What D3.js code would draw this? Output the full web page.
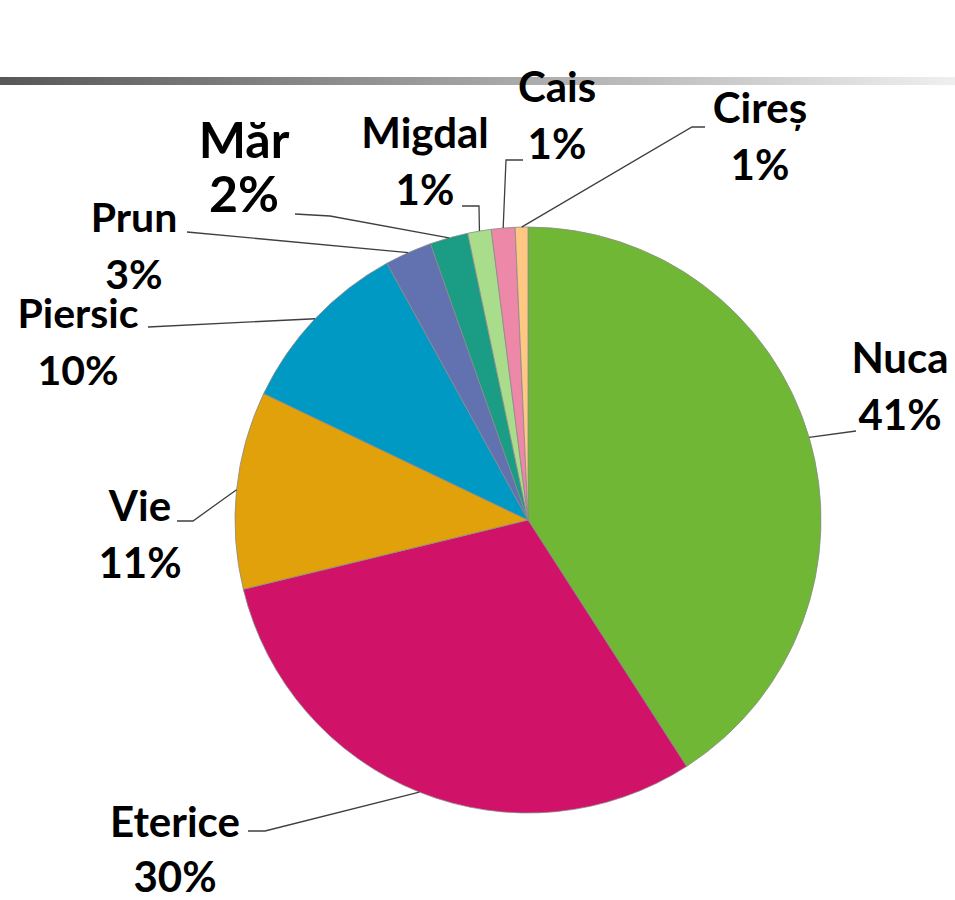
<!DOCTYPE html>
<html>
<head>
<meta charset="utf-8">
<script src="https://cdn.jsdelivr.net/npm/d3@7"></script>
<style>
  body { margin: 0; background: #fff; }
  svg { display: block; font-family: Lato, "Open Sans", sans-serif; font-weight: bold; }
</style>
</head>
<body>
<svg id="chart"></svg>
<script>
// data (clockwise from 12 o'clock)
const categories = ["Nuca", "Eterice", "Vie", "Piersic", "Prun", "Măr", "Migdal", "Cais", "Cireș"];
const shares = [40.9, 30.3, 10.9, 9.9, 2.6, 2.1, 1.3, 1.3, 0.7];
const percentLabels = ["41%", "30%", "11%", "10%", "3%", "2%", "1%", "1%", "1%"];
const colors = ["#70b735", "#d01268", "#e1a10a", "#0099c4", "#6272b0", "#1b9c84", "#a9dd8c", "#ee88a9", "#fec883"];

// label layout: text centre, first baseline, line gap, leader path (label end first)
const labelLayout = [
  { x: 900, y: 373, size: 42, gap: 57, leader: [[856, 431]] },
  { x: 175, y: 837, size: 42, gap: 55, leader: [[248, 831], [265, 831]] },
  { x: 140, y: 521, size: 42, gap: 57, leader: [[177, 521], [193, 521]] },
  { x: 78, y: 328, size: 41, gap: 57, leader: [[148, 327]] },
  { x: 134, y: 232, size: 41, gap: 57, leader: [[187, 232]] },
  { x: 244, y: 158, size: 50, gap: 54, leader: [[295, 214], [330, 216]] },
  { x: 425, y: 148, size: 42, gap: 57, leader: [[462, 206], [479, 206]] },
  { x: 557, y: 102, size: 42, gap: 57, leader: [[523, 160], [506, 160]] },
  { x: 760, y: 123, size: 42, gap: 57, leader: [[705, 127], [692, 127]] }
];

const width = 955, height = 900;
const cx = 528, cy = 520, radius = 293;

const svg = d3.select("#chart").attr("width", width).attr("height", height);

// header rule with gradient
const grad = svg.append("defs").append("linearGradient").attr("id", "rule");
grad.append("stop").attr("offset", "0%").attr("stop-color", "#575757");
grad.append("stop").attr("offset", "100%").attr("stop-color", "#efefef");
svg.append("rect")
  .attr("x", 0).attr("y", 77)
  .attr("width", width).attr("height", 8)
  .attr("fill", "url(#rule)");

const pie = d3.pie().sort(null).value((d) => d.value);
const arcs = pie(categories.map((c, i) => ({ name: c, value: shares[i], i })));
const arc = d3.arc().innerRadius(0).outerRadius(radius);

const g = svg.append("g").attr("transform", `translate(${cx},${cy})`);

g.selectAll("path.slice")
  .data(arcs)
  .join("path")
  .attr("class", "slice")
  .attr("d", arc)
  .attr("fill", (d) => colors[d.data.i])
  .attr("stroke", "#8a8a8a")
  .attr("stroke-width", 0.8);

// leader lines: from slice edge at its mid angle to the label
const line = d3.line();
arcs.forEach((d) => {
  const mid = (d.startAngle + d.endAngle) / 2;
  const start = [cx + radius * Math.sin(mid), cy - radius * Math.cos(mid)];
  const lay = labelLayout[d.data.i];
  const pts = [start, ...lay.leader.slice().reverse()];
  svg.append("path")
    .attr("d", line(pts))
    .attr("fill", "none")
    .attr("stroke", "#3f3f3f")
    .attr("stroke-width", 1.3);
});

// labels
arcs.forEach((d) => {
  const lay = labelLayout[d.data.i];
  const t = svg.append("text")
    .attr("text-anchor", "middle")
    .attr("font-size", lay.size)
    .attr("fill", "#000");
  t.append("tspan").attr("x", lay.x).attr("y", lay.y).text(d.data.name);
  t.append("tspan").attr("x", lay.x).attr("y", lay.y + lay.gap).text(percentLabels[d.data.i]);
});
</script>
</body>
</html>
